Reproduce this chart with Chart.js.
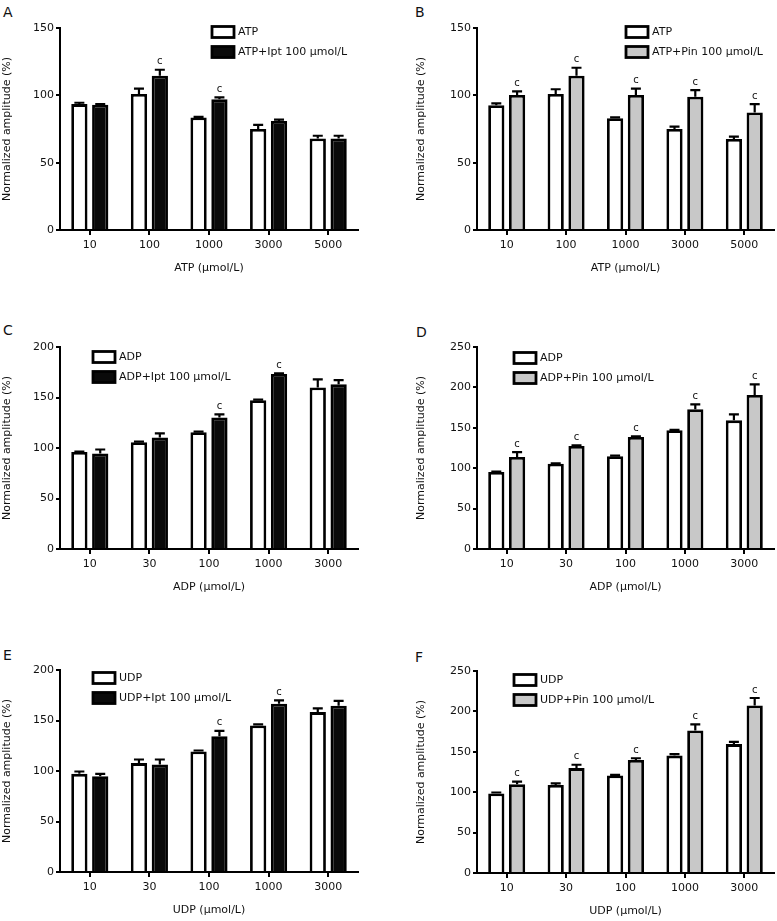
<!DOCTYPE html>
<html>
<head>
<meta charset="utf-8">
<script src="https://cdn.jsdelivr.net/npm/chart.js@4.4.0/dist/chart.umd.min.js"></script>
<style>
  body { margin: 0; background: #fff; width: 777px; height: 921px; overflow: hidden; position: relative; font-family: 'DejaVu Sans', sans-serif; }
  canvas { position: absolute; }
  .tag { position: absolute; font-size: 14px; color: #111; line-height: 16px; }
</style>
</head>
<body>
<div class="tag" style="left:3px;top:4px">A</div>
<div class="tag" style="left:415px;top:4px">B</div>
<div class="tag" style="left:3px;top:322px">C</div>
<div class="tag" style="left:416px;top:324px">D</div>
<div class="tag" style="left:3px;top:647px">E</div>
<div class="tag" style="left:415px;top:649px">F</div>

<canvas id="panelA" width="362" height="262" style="left:-2px;top:18px"></canvas>
<canvas id="panelB" width="361" height="262" style="left:415px;top:18px"></canvas>
<canvas id="panelC" width="362" height="262" style="left:-2px;top:337px"></canvas>
<canvas id="panelD" width="361" height="262" style="left:415px;top:337px"></canvas>
<canvas id="panelE" width="362" height="262" style="left:-2px;top:660px"></canvas>
<canvas id="panelF" width="361" height="262" style="left:415px;top:661px"></canvas>

<script>
// doses on the x axes
const atpDoses = ['10', '100', '1000', '3000', '5000'];
const adpDoses = ['10', '30', '100', '1000', '3000'];
const udpDoses = ['10', '30', '100', '1000', '3000'];

// A: ATP vs ATP+Ipt
const atpA = [93.5, 101, 83.5, 75, 68];
const atpAErr = [1, 4, 0.5, 3, 2];
const iptA = [93, 114.5, 97, 81, 68];
const iptAErr = [0.5, 4.5, 1.5, 1, 2];
const sigA = ['', 'c', 'c', '', ''];

// B: ATP vs ATP+Pin
const atpB = [92.7, 101, 83, 75, 67.6];
const atpBErr = [1.3, 3.5, 0.6, 1.7, 1.7];
const pinB = [100.3, 114.6, 100.3, 99, 87.3];
const pinBErr = [2.7, 5.9, 4.7, 4.8, 6.1];
const sigB = ['c', 'c', 'c', 'c', 'c'];

// C: ADP vs ADP+Ipt
const adpC = [96, 105.8, 115.7, 147.4, 160];
const adpCErr = [0.5, 0.5, 0.5, 0.5, 8];
const iptC = [94.5, 110.4, 130.2, 173.2, 163];
const iptCErr = [4, 4, 3, 0.7, 4.3];
const sigC = ['', '', 'c', 'c', ''];

// D: ADP vs ADP+Pin
const adpD = [95.3, 105.6, 114.7, 146.9, 159.2];
const adpDErr = [0.5, 0.5, 0.8, 0.5, 7.5];
const pinD = [114, 127.5, 138.6, 172.9, 190.6];
const pinDErr = [6, 0.8, 0.8, 6, 13.2];
const sigD = ['c', 'c', 'c', 'c', 'c'];

// E: UDP vs UDP+Ipt
const udpE = [97.2, 107.8, 119.3, 145.1, 158.3];
const udpEErr = [2.3, 3.6, 1, 1, 3.7];
const iptE = [94.9, 106.4, 134.5, 166.6, 164.6];
const iptEErr = [2.3, 5, 5.2, 3.4, 4.8];
const sigE = ['', '', 'c', 'c', ''];

// F: UDP vs UDP+Pin
const udpF = [98.3, 109, 120.6, 145.3, 159.5];
const udpFErr = [1.3, 2, 0.8, 1.7, 2.9];
const pinF = [109.9, 129.8, 140, 176.5, 207.4];
const pinFErr = [3.3, 4.2, 2, 7.5, 9.2];
const sigF = ['c', 'c', 'c', 'c', 'c'];

Chart.defaults.font.family = "'DejaVu Sans', sans-serif";
Chart.defaults.color = '#111';

// SEM bars (upward only) + significance letter
const errorBars = {
  id: 'errorBars',
  afterDatasetsDraw(chart) {
    const ctx = chart.ctx;
    const y = chart.scales.y;
    ctx.save();
    chart.data.datasets.forEach((ds, i) => {
      chart.getDatasetMeta(i).data.forEach((bar, j) => {
        const top = y.getPixelForValue(ds.data[j] + ds.errors[j]);
        ctx.strokeStyle = '#000';
        ctx.lineWidth = 2.2;
        ctx.beginPath();
        ctx.moveTo(bar.x, bar.y);
        ctx.lineTo(bar.x, top);
        ctx.moveTo(bar.x - 5, top);
        ctx.lineTo(bar.x + 5, top);
        ctx.stroke();
        if (ds.sig && ds.sig[j]) {
          ctx.fillStyle = '#111';
          ctx.font = "10px 'DejaVu Sans'";
          ctx.textAlign = 'center';
          ctx.textBaseline = 'bottom';
          ctx.fillText(ds.sig[j], bar.x, top - 3);
        }
      });
    });
    ctx.restore();
  }
};

// legend drawn inside the plot, prism style
const boxLegend = {
  id: 'boxLegend',
  afterDraw(chart, args, opts) {
    const {ctx, chartArea} = chart;
    ctx.save();
    chart.data.datasets.forEach((ds, i) => {
      const x = chartArea.left + opts.x;
      const cy = chartArea.top + opts.y + i * 20;
      ctx.fillStyle = ds.backgroundColor;
      ctx.fillRect(x, cy - 5.5, 22, 11);
      ctx.lineWidth = 2.8;
      ctx.strokeStyle = '#000';
      ctx.strokeRect(x, cy - 5.5, 22, 11);
      ctx.fillStyle = '#111';
      ctx.font = "11px 'DejaVu Sans'";
      ctx.textAlign = 'left';
      ctx.textBaseline = 'middle';
      ctx.fillText(ds.label, x + 26, cy);
    });
    ctx.restore();
  }
};

function drawPanel(id, p) {
  new Chart(document.getElementById(id), {
    type: 'bar',
    data: {
      labels: p.labels,
      datasets: [
        { label: p.names[0], data: p.ctrl, errors: p.ctrlErr, sig: [],
          backgroundColor: '#ffffff', borderColor: '#000', borderWidth: 2.8, borderSkipped: 'start' },
        { label: p.names[1], data: p.drug, errors: p.drugErr, sig: p.sig,
          backgroundColor: p.fill, borderColor: '#000', borderWidth: 2.8, borderSkipped: 'start' }
      ]
    },
    options: {
      responsive: false,
      animation: false,
      devicePixelRatio: 1,
      layout: { padding: { top: 10, right: 2, left: 0, bottom: 0 } },
      datasets: { bar: { categoryPercentage: 0.7, barPercentage: 0.78 } },
      plugins: {
        legend: { display: false },
        tooltip: { enabled: false },
        boxLegend: { x: p.legendX, y: p.legendY }
      },
      scales: {
        x: {
          grid: { offset: false, drawOnChartArea: false, tickLength: 5, color: '#000', lineWidth: 2 },
          border: { color: '#000', width: 2 },
          ticks: { font: { size: 11 }, padding: 4, maxRotation: 0 },
          title: { display: true, text: p.xTitle, font: { size: 11 }, padding: { top: 0, bottom: 5 } },
          afterFit(s) { s.height = 50; }
        },
        y: {
          min: 0,
          max: p.yMax,
          grid: { drawOnChartArea: false, tickLength: 4, color: '#000', lineWidth: 2 },
          border: { color: '#000', width: 2 },
          ticks: { stepSize: 50, font: { size: 11 }, padding: 2 },
          title: { display: true, text: 'Normalized amplitude (%)', font: { size: 11 }, padding: { top: p.titlePad, bottom: 0 } },
          afterFit(s) { s.width = 62; }
        }
      }
    },
    plugins: [errorBars, boxLegend]
  });
}

drawPanel('panelA', { labels: atpDoses, names: ['ATP', 'ATP+Ipt 100 μmol/L'], ctrl: atpA, ctrlErr: atpAErr,
  drug: iptA, drugErr: iptAErr, sig: sigA, fill: '#0a0a0a', yMax: 150, xTitle: 'ATP (μmol/L)', legendX: 152, legendY: 4, titlePad: 3 });
drawPanel('panelB', { labels: atpDoses, names: ['ATP', 'ATP+Pin 100 μmol/L'], ctrl: atpB, ctrlErr: atpBErr,
  drug: pinB, drugErr: pinBErr, sig: sigB, fill: '#c8c8c8', yMax: 150, xTitle: 'ATP (μmol/L)', legendX: 149, legendY: 4, titlePad: 0 });
drawPanel('panelC', { labels: adpDoses, names: ['ADP', 'ADP+Ipt 100 μmol/L'], ctrl: adpC, ctrlErr: adpCErr,
  drug: iptC, drugErr: iptCErr, sig: sigC, fill: '#0a0a0a', yMax: 200, xTitle: 'ADP (μmol/L)', legendX: 33, legendY: 10, titlePad: 3 });
drawPanel('panelD', { labels: adpDoses, names: ['ADP', 'ADP+Pin 100 μmol/L'], ctrl: adpD, ctrlErr: adpDErr,
  drug: pinD, drugErr: pinDErr, sig: sigD, fill: '#c8c8c8', yMax: 250, xTitle: 'ADP (μmol/L)', legendX: 37, legendY: 11, titlePad: 0 });
drawPanel('panelE', { labels: udpDoses, names: ['UDP', 'UDP+Ipt 100 μmol/L'], ctrl: udpE, ctrlErr: udpEErr,
  drug: iptE, drugErr: iptEErr, sig: sigE, fill: '#0a0a0a', yMax: 200, xTitle: 'UDP (μmol/L)', legendX: 33, legendY: 8, titlePad: 3 });
drawPanel('panelF', { labels: udpDoses, names: ['UDP', 'UDP+Pin 100 μmol/L'], ctrl: udpF, ctrlErr: udpFErr,
  drug: pinF, drugErr: pinFErr, sig: sigF, fill: '#c8c8c8', yMax: 250, xTitle: 'UDP (μmol/L)', legendX: 37, legendY: 9, titlePad: 0 });
</script>
</body>
</html>
